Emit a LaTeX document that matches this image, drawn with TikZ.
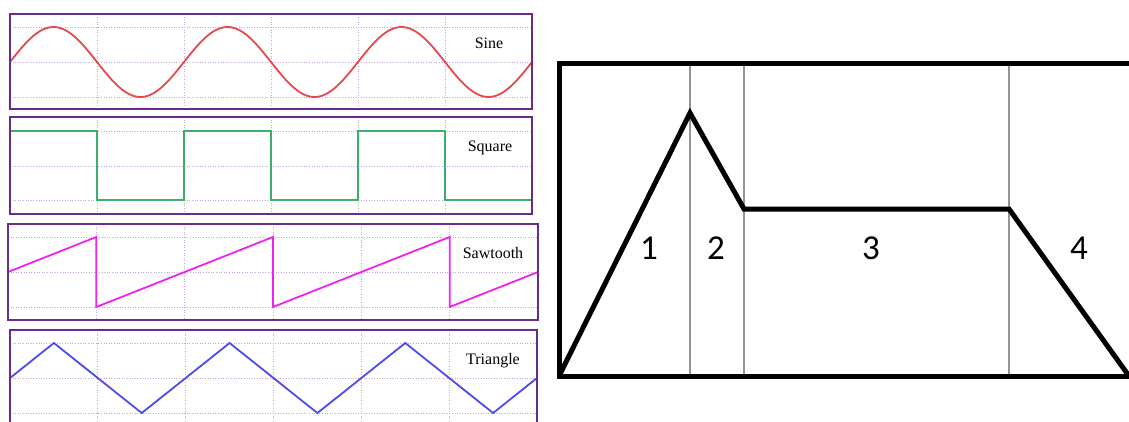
\documentclass[tikz,border=0pt]{standalone}
\usepackage{fontspec}
\setmainfont{Liberation Serif}
\newfontfamily\stagefont{Carlito}

\definecolor{framepurple}{HTML}{6A2C8C}
\definecolor{gridlilac}{HTML}{C8A4DE}
\definecolor{sinered}{HTML}{E8474C}
\definecolor{squaregreen}{HTML}{3AB06A}
\definecolor{sawmagenta}{HTML}{EE22EE}
\definecolor{triblue}{HTML}{4B4BF0}

\begin{document}
\begin{tikzpicture}[
    x=1pt, y=-1pt,
    panelframe/.style={draw=framepurple, line width=2pt},
    gridline/.style={draw=gridlilac, line width=0.9pt, dash pattern=on 1pt off 1.6pt},
    wave/.style={line width=1.8pt, line join=miter},
    wavename/.style={font=\fontsize{16}{18}\selectfont},
    envelope/.style={line width=5pt, line join=miter},
    divider/.style={draw=black!42, line width=2.8pt},
    stage/.style={font=\stagefont\fontsize{35}{40}\selectfont}
]
\clip (0,0) rectangle (1129,421);

% Sine
\foreach \gx in {97,184,271,358,445} \draw[gridline] (\gx,14) -- (\gx,109);
\foreach \gy in {27,62,97} \draw[gridline] (10,\gy) -- (532,\gy);
\draw[wave, sinered] plot[domain=10:532, samples=160, smooth] (\x, {62-35*sin((\x-10)/174*360)});
\draw[panelframe] (10,14) rectangle (532,109);
\node[wavename] (sinename) at (489,43) {Sine};

% Square
\foreach \gx in {97,184,271,358,445} \draw[gridline] (\gx,117) -- (\gx,214);
\foreach \gy in {131,166,200} \draw[gridline] (10,\gy) -- (532,\gy);
\draw[wave, squaregreen] (10,131) -- (97,131) -- (97,200) -- (184,200) -- (184,131) -- (271,131)
    -- (271,200) -- (358,200) -- (358,131) -- (445,131) -- (445,200) -- (532,200);
\draw[panelframe] (10,117) rectangle (532,214);
\node[wavename] (squarename) at (490,148) {Square};

% Sawtooth
\foreach \gx in {96.3,184.7,273,361.3,449.7} \draw[gridline] (\gx,224) -- (\gx,320);
\foreach \gy in {237,272,307} \draw[gridline] (8,\gy) -- (538,\gy);
\draw[wave, sawmagenta] (8,272) -- (96.3,237) -- (96.3,307) -- (273,237) -- (273,307)
    -- (449.7,237) -- (449.7,307) -- (538,272);
\draw[panelframe] (8,224) rectangle (538,320);
\node[wavename] (sawname) at (493,253) {Sawtooth};

% Triangle
\foreach \gx in {97.8,185.7,273.5,361.3,449.2} \draw[gridline] (\gx,330) -- (\gx,426);
\foreach \gy in {343,378,413} \draw[gridline] (10,\gy) -- (537,\gy);
\draw[wave, triblue] (10,378) -- (53.9,343) -- (141.7,413) -- (229.6,343) -- (317.4,413)
    -- (405.3,343) -- (493.1,413) -- (537,378);
\draw[panelframe] (10,330) rectangle (537,426);
\node[wavename] (triname) at (493,361) {Triangle};

% Envelope
\coordinate (start) at (559,376);
\coordinate (peak) at (690,113);
\coordinate (decay) at (744,209);
\coordinate (release) at (1009,209);
\coordinate (finish) at (1129,376);

\draw[divider] (690,63) -- (690,376);
\draw[divider] (744,63) -- (744,376);
\draw[divider] (1009,63) -- (1009,376);

\draw[envelope] (1135,63) -- (559,63) -- (559,376) -- (1135,376);
\draw[envelope] (start) -- (peak) -- (decay) -- (release) -- (finish);

\node[stage] (attack) at (649,248) {1};
\node[stage] (decayno) at (716,248) {2};
\node[stage] (sustain) at (871,248) {3};
\node[stage] (releaseno) at (1079,248) {4};

\end{tikzpicture}
\end{document}
